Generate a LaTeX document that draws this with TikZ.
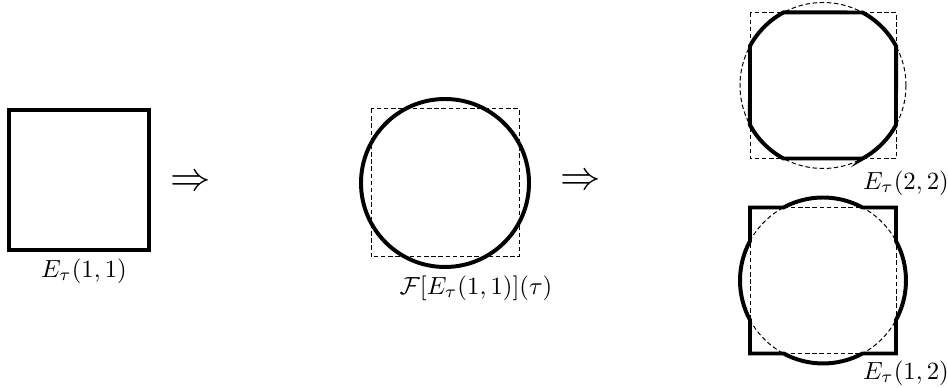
\documentclass[tikz,border=0pt]{standalone}
\begin{document}
\begin{tikzpicture}[x=0.014184cm,y=-0.014184cm,
  thickline/.style={line width=1.6pt,line join=miter},
  dashline/.style={line width=0.4pt,dash pattern=on 1.8pt off 1.1pt},
  lbl/.style={inner sep=0pt},
  implies/.style={inner sep=0pt,scale=1.63}]
\useasboundingbox (0,0) rectangle (948,388);
% left square
\draw[thickline] (9,110) rectangle (149,250);
\node[lbl] (l1) at (84,271) {$E_\tau(1,1)$};
\node[implies] (a1) at (190.5,183) {$\Rightarrow$};
% middle
\draw[dashline] (371,109) rectangle (519,257);
\draw[thickline] (445,183) circle[radius=84];
\node[lbl] (l2) at (476,288) {$\mathcal{F}[E_\tau(1,1)](\tau)$};
\node[implies] (a2) at (581,182) {$\Rightarrow$};
% top right: intersection
\begin{scope}[shift={(823,85.5)}]
  \draw[dashline] (-73,-73) rectangle (73,73);
  \draw[dashline] (0,0) circle[radius=83];
  \draw[thickline] (39.5,73) -- (-39.5,73)
    arc[start angle=118.4,end angle=151.6,radius=83] -- (-73,-39.5)
    arc[start angle=208.4,end angle=241.6,radius=83] -- (39.5,-73)
    arc[start angle=298.4,end angle=331.6,radius=83] -- (73,39.5)
    arc[start angle=28.4,end angle=61.6,radius=83] -- cycle;
\end{scope}
\node[lbl] (l3) at (906,183) {$E_\tau(2,2)$};
% bottom right: union
\begin{scope}[shift={(823,280.5)}]
  \draw[dashline] (-73,-73) rectangle (73,73);
  \draw[dashline] (0,0) circle[radius=83];
  \draw[thickline] (73,-39.5)
    arc[start angle=-28.4,end angle=28.4,radius=83] -- (73,73) -- (39.5,73)
    arc[start angle=61.6,end angle=118.4,radius=83] -- (-73,73) -- (-73,39.5)
    arc[start angle=151.6,end angle=208.4,radius=83] -- (-73,-73) -- (-39.5,-73)
    arc[start angle=241.6,end angle=298.4,radius=83] -- (73,-73) -- cycle;
\end{scope}
\node[lbl] (l4) at (906,373) {$E_\tau(1,2)$};
\end{tikzpicture}
\end{document}
